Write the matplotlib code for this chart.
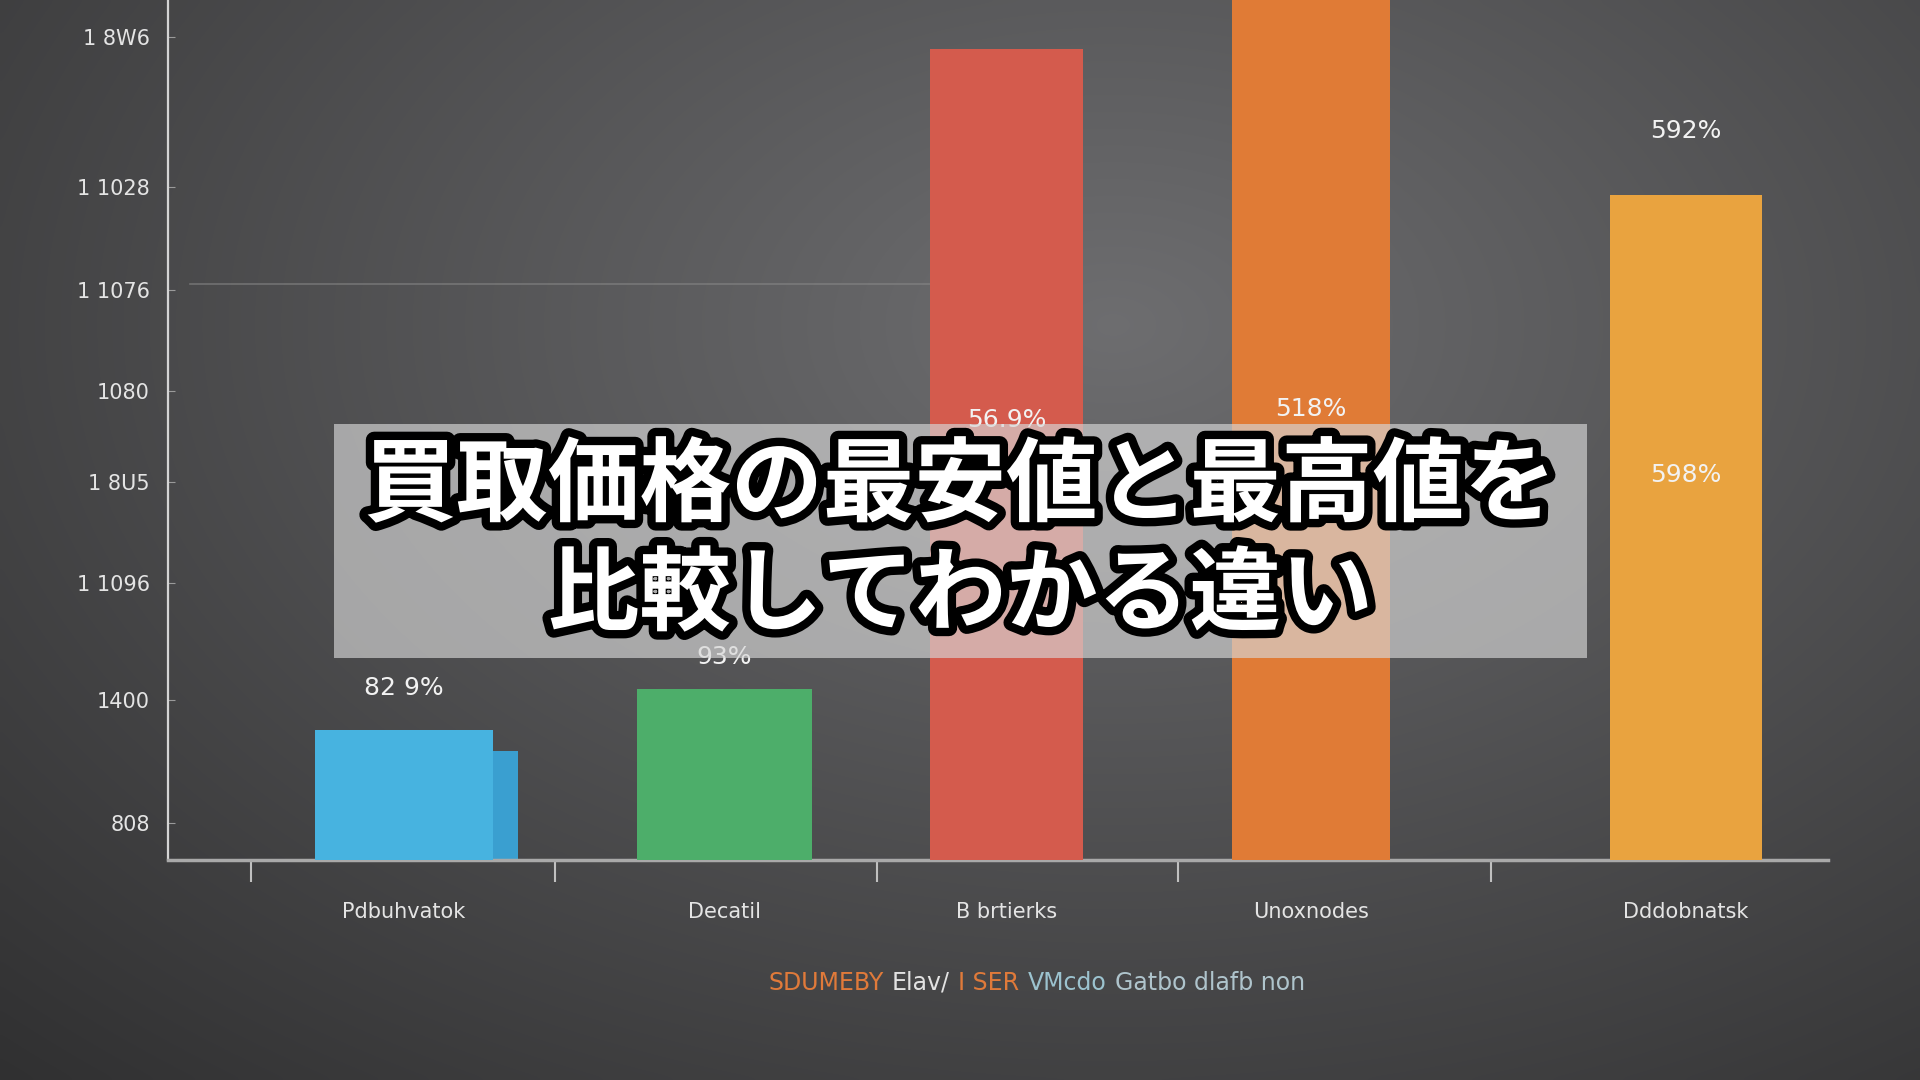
import numpy as np
import matplotlib
matplotlib.use('Agg')
import matplotlib.pyplot as plt
import matplotlib.patheffects as pe
from matplotlib.patches import Rectangle
from matplotlib.offsetbox import TextArea, HPacker, AnnotationBbox

# data (y in % of axis height)
categories = ['Pdbuhvatok', 'Decatil', 'B brtierks', 'Unoxnodes', 'Dddobnatsk']
values = [15.1, 19.9, 94.3, 104.0, 77.3]
side_value = 12.7          # little side face of the blue bar
value_labels = ['82 9%', '93%', '56.9%', '518%', '598%']
label_heights = [20.0, 23.6, 51.2, 52.4, 44.8]
extra_label = '592%'
extra_label_height = 84.8
ytick_values = [95.7, 78.3, 66.3, 54.5, 44.0, 32.2, 18.6, 4.3]
ytick_labels = ['1 8W6', '1 1028', '1 1076', '1080', '1 8U5', '1 1096', '1400', '808']
grid_value = 67.0
footer_parts = ['SDUMEBY', 'Elav/', 'I SER', 'VMcdo', 'Gatbo dlafb non']
title_lines = ['買取価格の最安値と最高値を', '比較してわかる違い']

# layout / style
x_pos = [0, 1.0, 1.88, 2.83, 4.0]
widths = [0.555, 0.546, 0.48, 0.49, 0.474]
colors = ['#47B3E0', '#4DAE6A', '#D45B4D', '#E07B36', '#E9A33F']
dividers = [-0.477, 0.471, 1.476, 2.415, 3.392]
footer_colors = ['#E07A3A', '#E2E2E2', '#E07A3A', '#9CC3CF', '#AFC4CC']

fig = plt.figure(figsize=(19.2, 10.8), dpi=100)

# dark vignette background
bg = fig.add_axes([0, 0, 1, 1], zorder=-5)
yy, xx = np.mgrid[0:1:216j, 0:1:384j]
d = np.sqrt(((xx - 0.58) / 0.7) ** 2 + ((yy - 0.3) / 0.8) ** 2)
v = np.clip(0.43 - 0.2 * d, 0.17, 1)
img = np.dstack([v, v, v * 1.02]).clip(0, 1)
bg.imshow(img, extent=[0, 1, 0, 1], aspect='auto', interpolation='bicubic')
bg.axis('off')

ax = fig.add_axes([0.0875, 0.2037, 0.8646, 0.7963], zorder=0)
ax.patch.set_alpha(0)
ax.set_xlim(-0.736, 4.443)
ax.set_ylim(0, 100)

ax.axhline(grid_value, xmin=0.013, xmax=0.5, color='#8a8a8a', lw=1.2, alpha=0.6, zorder=1)

bars = ax.bar(x_pos, values, width=widths, color=colors, zorder=3)
ax.bar(x_pos[0] + 0.317, side_value, width=0.078, color='#3A9FD0', zorder=2)

for x, h, t in zip(x_pos, label_heights, value_labels):
    ax.text(x, h, t, ha='center', va='center', color='#f2f2f2', fontsize=18, zorder=4)
ax.text(x_pos[4], extra_label_height, extra_label, ha='center', va='center',
        color='#f2f2f2', fontsize=18, zorder=4)

for s in ['top', 'right']:
    ax.spines[s].set_visible(False)
ax.spines['left'].set_color('#d4d4d4')
ax.spines['left'].set_linewidth(1.6)
ax.spines['bottom'].set_color('#a9a9a9')
ax.spines['bottom'].set_linewidth(2.5)

ax.set_yticks(ytick_values, labels=ytick_labels)
ax.tick_params(axis='y', direction='in', length=5, color='#9a9a9a',
               labelsize=15, labelcolor='#e4e4e4', pad=13)
ax.set_xticks(dividers, labels=[''] * len(dividers))
ax.tick_params(axis='x', which='major', direction='out', length=16, width=1.5, color='#c0c0c0')
ax.set_xticks(x_pos, labels=categories, minor=True)
ax.tick_params(axis='x', which='minor', length=0, pad=30, labelsize=15, labelcolor='#e4e4e4')

# footer with coloured pieces
parts = [TextArea(t, textprops=dict(color=c, fontsize=17)) for t, c in zip(footer_parts, footer_colors)]
box = HPacker(children=parts, align='center', pad=0, sep=6)
fig.add_artist(AnnotationBbox(box, (0.54, 0.09), xycoords='figure fraction', frameon=False))

# title overlay
fig.add_artist(Rectangle((0.174, 0.3907), 0.6526, 0.2167, transform=fig.transFigure,
                         facecolor='#d6d6d6', alpha=0.66, edgecolor='none', zorder=5))
for y, line in zip([0.549, 0.448], title_lines):
    fig.text(0.5, y, line, ha='center', va='center', fontsize=66, fontweight='bold',
             color='white', family=['Noto Sans CJK JP', 'DejaVu Sans'], zorder=6,
             path_effects=[pe.withStroke(linewidth=12, foreground='black')])

fig.savefig('out.png', dpi=100)
